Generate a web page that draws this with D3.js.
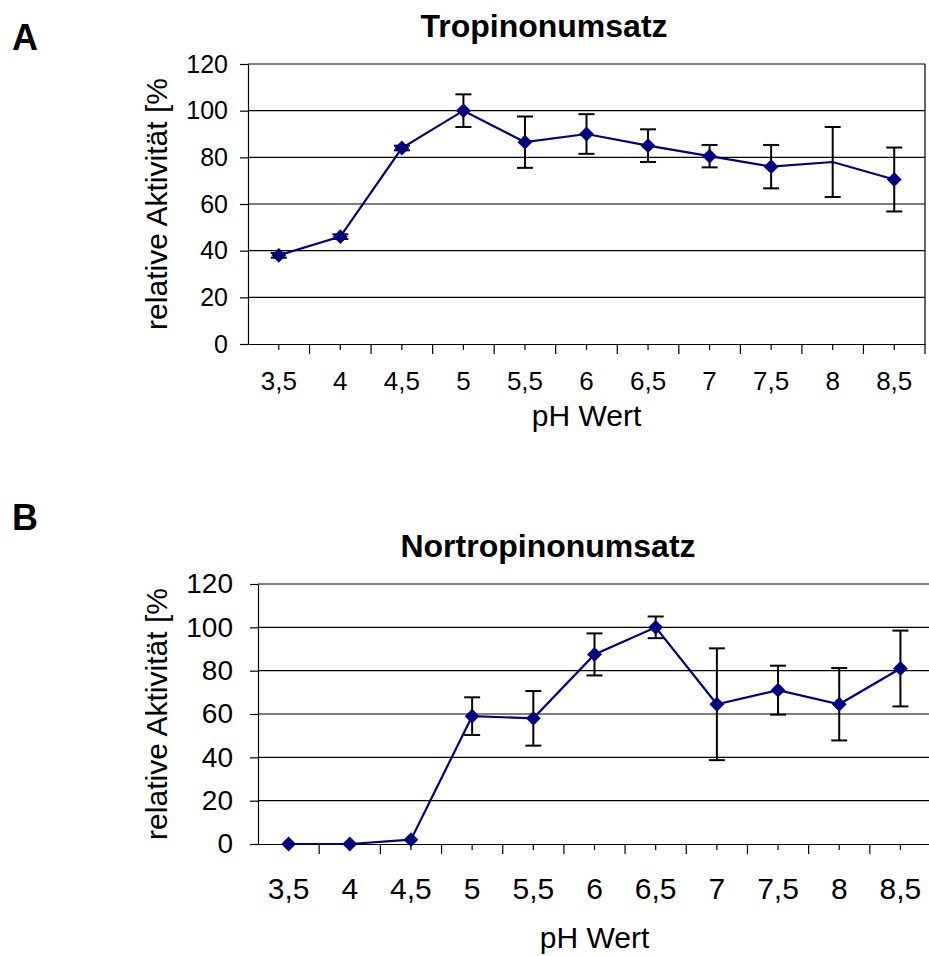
<!DOCTYPE html>
<html>
<head>
<meta charset="utf-8">
<script src="https://cdn.jsdelivr.net/npm/d3@7"></script>
<style>
  body { margin: 0; background: #fff; }
  svg { display: block; font-family: Arial, "Liberation Sans", sans-serif; }
</style>
</head>
<body>
<div id="container"></div>
<script>
// Data
const phLabels = ["3,5", "4", "4,5", "5", "5,5", "6", "6,5", "7", "7,5", "8", "8,5"];
const yTicks = [0, 20, 40, 60, 80, 100, 120];

const tropValues = [38, 46, 84, 100, 86.5, 90, 85, 80.5, 76, 78, 70.5];
const tropErrors = [1, 1, 1, 7, 11, 8.5, 7, 4.8, 9.3, 15, 13.7];

const nortropValues = [0, 0, 2, 59, 58, 87.5, 100, 64.5, 71, 64.5, 81];
const nortropErrors = [0, 0, 0, 8.7, 12.6, 9.7, 5, 25.8, 11.3, 16.7, 17.5];

const svg = d3
  .select("#container")
  .append("svg")
  .attr("width", 929)
  .attr("height", 956);

const lineColor = "#000080";

const drawPanel = (cfg) => {
  const values = cfg.values;
  const errors = cfg.errors;

  const x = d3
    .scaleBand()
    .domain(phLabels)
    .range([cfg.left, cfg.right])
    .padding(0);
  const y = d3.scaleLinear().domain([0, 120]).range([cfg.bottom, cfg.top]);

  const g = svg.append("g");

  // gridlines
  g.append("g")
    .selectAll("line")
    .data(yTicks.filter((t) => t > 0))
    .enter()
    .append("line")
    .attr("x1", cfg.left)
    .attr("x2", cfg.right)
    .attr("y1", (d) => y(d))
    .attr("y2", (d) => y(d))
    .attr("stroke", "#000")
    .attr("stroke-width", 1.2);

  if (cfg.rightBorder) {
    g.append("line")
      .attr("x1", cfg.right)
      .attr("x2", cfg.right)
      .attr("y1", cfg.top)
      .attr("y2", cfg.bottom)
      .attr("stroke", "#000")
      .attr("stroke-width", 1.2);
  }

  // y axis
  const yAxis = g
    .append("g")
    .attr("transform", "translate(" + cfg.left + ",0)")
    .call(
      d3
        .axisLeft(y)
        .tickValues(yTicks)
        .tickSize(8)
        .tickSizeOuter(0)
        .tickPadding(cfg.yPad)
    );
  yAxis.selectAll("text").attr("font-size", cfg.yTickFont).attr("fill", "#000").attr("font-family", null);
  yAxis.selectAll("line, path").attr("stroke", "#000").attr("stroke-width", 1.2);

  // x axis (center ticks with labels)
  const xAxis = g
    .append("g")
    .attr("transform", "translate(0," + cfg.bottom + ")")
    .call(d3.axisBottom(x).tickSize(6).tickSizeOuter(0).tickPadding(cfg.xPad));
  xAxis.selectAll("text").attr("font-size", cfg.xTickFont).attr("fill", "#000").attr("font-family", null);
  xAxis.selectAll("line, path").attr("stroke", "#000").attr("stroke-width", 1.2);

  // boundary ticks between categories
  g.append("g")
    .selectAll("line")
    .data(phLabels.slice(1).concat(["end"]))
    .enter()
    .append("line")
    .attr("x1", (d) => (d === "end" ? cfg.right : x(d)))
    .attr("x2", (d) => (d === "end" ? cfg.right : x(d)))
    .attr("y1", cfg.bottom)
    .attr("y2", cfg.bottom + 10)
    .attr("stroke", "#000")
    .attr("stroke-width", 1.2);

  const cx = (i) => x(phLabels[i]) + x.bandwidth() / 2;

  // error bars
  const eb = g
    .append("g")
    .selectAll("g")
    .data(values.map((v, i) => ({ v, e: errors[i], i })).filter((d) => d.e > 0))
    .enter()
    .append("g")
    .attr("stroke", "#000")
    .attr("stroke-width", 2);
  eb.append("line")
    .attr("x1", (d) => cx(d.i))
    .attr("x2", (d) => cx(d.i))
    .attr("y1", (d) => y(d.v + d.e))
    .attr("y2", (d) => y(d.v - d.e));
  eb.append("line")
    .attr("x1", (d) => cx(d.i) - 8)
    .attr("x2", (d) => cx(d.i) + 8)
    .attr("y1", (d) => y(d.v + d.e))
    .attr("y2", (d) => y(d.v + d.e));
  eb.append("line")
    .attr("x1", (d) => cx(d.i) - 8)
    .attr("x2", (d) => cx(d.i) + 8)
    .attr("y1", (d) => y(d.v - d.e))
    .attr("y2", (d) => y(d.v - d.e));

  // line
  const line = d3
    .line()
    .x((d, i) => cx(i))
    .y((d) => y(d));
  g.append("path")
    .datum(values)
    .attr("d", line)
    .attr("fill", "none")
    .attr("stroke", lineColor)
    .attr("stroke-width", 2.2);

  // diamond markers (hidden ones are covered in the original)
  g.append("g")
    .selectAll("path")
    .data(values.map((v, i) => ({ v, i })).filter((d) => !cfg.hidden.includes(d.i)))
    .enter()
    .append("path")
    .attr("d", d3.symbol(d3.symbolSquare, 110))
    .attr("transform", (d) => "translate(" + cx(d.i) + "," + y(d.v) + ") rotate(45)")
    .attr("fill", lineColor);

  // titles
  svg.append("text")
    .attr("x", cfg.titleX)
    .attr("y", cfg.titleY)
    .attr("text-anchor", "middle")
    .attr("font-weight", "bold")
    .attr("font-size", 32)
    .text(cfg.title);

  svg.append("text")
    .attr("x", 12)
    .attr("y", cfg.letterY)
    .attr("font-weight", "bold")
    .attr("font-size", 36)
    .text(cfg.letter);

  svg.append("text")
    .attr("x", (cfg.left + cfg.right) / 2)
    .attr("y", cfg.xTitleY)
    .attr("text-anchor", "middle")
    .attr("font-size", cfg.xTitleFont)
    .text("pH Wert");

  svg.append("text")
    .attr("transform", "translate(" + cfg.yTitleX + "," + (cfg.top + cfg.bottom) / 2 + ") rotate(-90)")
    .attr("text-anchor", "middle")
    .attr("font-size", cfg.yTitleFont)
    .text("relative Aktivität [%");
};

drawPanel({
  values: tropValues,
  errors: tropErrors,
  hidden: [9],
  left: 248, right: 925, top: 64, bottom: 344,
  rightBorder: true,
  yPad: 12, xPad: 22,
  yTickFont: 25, xTickFont: 26,
  title: "Tropinonumsatz", titleX: 544, titleY: 37,
  letter: "A", letterY: 50,
  xTitleY: 426, xTitleFont: 30,
  yTitleX: 167, yTitleFont: 30
});

drawPanel({
  values: nortropValues,
  errors: nortropErrors,
  hidden: [],
  left: 258, right: 931, top: 584, bottom: 844,
  rightBorder: false,
  yPad: 17, xPad: 28,
  yTickFont: 28, xTickFont: 30,
  title: "Nortropinonumsatz", titleX: 548, titleY: 557,
  letter: "B", letterY: 530,
  xTitleY: 948, xTitleFont: 30,
  yTitleX: 167, yTitleFont: 30
});
</script>
</body>
</html>
